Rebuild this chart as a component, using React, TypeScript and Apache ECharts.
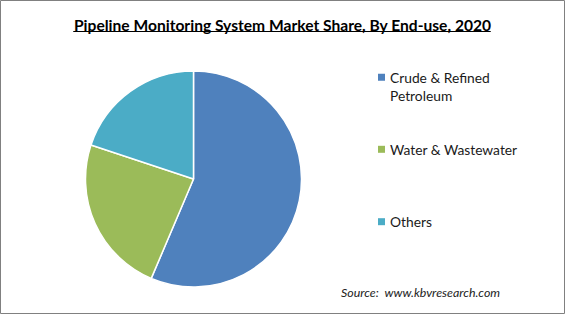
import React, { useEffect, useRef } from "react";
import * as echarts from "echarts";

const categories = ["Crude & Refined\nPetroleum", "Water & Wastewater", "Others"];
const shares = [56.4, 23.7, 19.9];
const colors = ["#4F81BD", "#9BBB59", "#4BACC6"];
const titleText = "Pipeline Monitoring System Market Share, By End-use, 2020";
const sourceText = "Source:  www.kbvresearch.com";

const W = 565;
const H = 314;
const TITLE_SIZE = 15.6;
const TITLE_FONT = `bold ${TITLE_SIZE}px Lato`;

function measure(text: string, font: string): number {
  const c = document.createElement("canvas").getContext("2d");
  if (!c) return 418;
  c.font = font;
  return c.measureText(text).width;
}

export default function App() {
  const ref = useRef<HTMLDivElement>(null);
  useEffect(() => {
    document.body.style.margin = "0";
    if (!ref.current) return;
    const chart = echarts.init(ref.current, undefined, { renderer: "svg" });
    const tw = measure(titleText, TITLE_FONT);
    const tcx = 282;
    const legendTops = [68.3, 140.3, 212.7];
    const legends = categories.map((name, i) => ({
      data: [name],
      left: 378,
      top: legendTops[i],
      orient: "vertical",
      padding: 0,
      itemWidth: 7,
      itemHeight: i === 0 ? 25 : 7,
      itemGap: 0,
      icon: i === 0 ? "path://M0,0L7,0L7,7L0,7Z M0,25L7,25" : "rect",
      itemStyle: { borderWidth: 0 },
      selectedMode: false,
      textStyle: {
        fontFamily: "Lato",
        fontSize: 13.8,
        color: "#1a1a1a",
        lineHeight: 18,
      },
    }));
    chart.setOption({
      animation: false,
      backgroundColor: "#ffffff",
      color: colors,
      title: {
        text: titleText,
        left: "center",
        top: 12,
        textStyle: { fontFamily: "Lato", fontWeight: "bold", fontSize: TITLE_SIZE, color: "#000" },
      },
      legend: legends,
      series: [
        {
          type: "pie",
          center: [193.5, 179],
          radius: 108,
          startAngle: 90,
          clockwise: true,
          label: { show: false },
          labelLine: { show: false },
          itemStyle: { borderColor: "#ffffff", borderWidth: 1.5 },
          emphasis: { disabled: true },
          data: categories.map((name, i) => ({ name, value: shares[i] })),
        },
      ],
      graphic: [
        {
          type: "line",
          shape: { x1: tcx - tw / 2, y1: 31.5, x2: tcx + tw / 2, y2: 31.5 },
          style: { stroke: "#000", lineWidth: 1 },
        },
        {
          type: "text",
          left: 341,
          top: 286.5,
          style: {
            text: sourceText,
            fontFamily: "Lato",
            fontStyle: "italic",
            fontSize: 12.4,
            fill: "#222",
          },
        },
        {
          type: "rect",
          shape: { x: 0.5, y: 0.5, width: W - 1, height: H - 1 },
          style: { fill: "none", stroke: "#808080", lineWidth: 1 },
          silent: true,
        },
      ],
    });
    return () => chart.dispose();
  }, []);
  return <div ref={ref} style={{ width: W, height: H }} />;
}
